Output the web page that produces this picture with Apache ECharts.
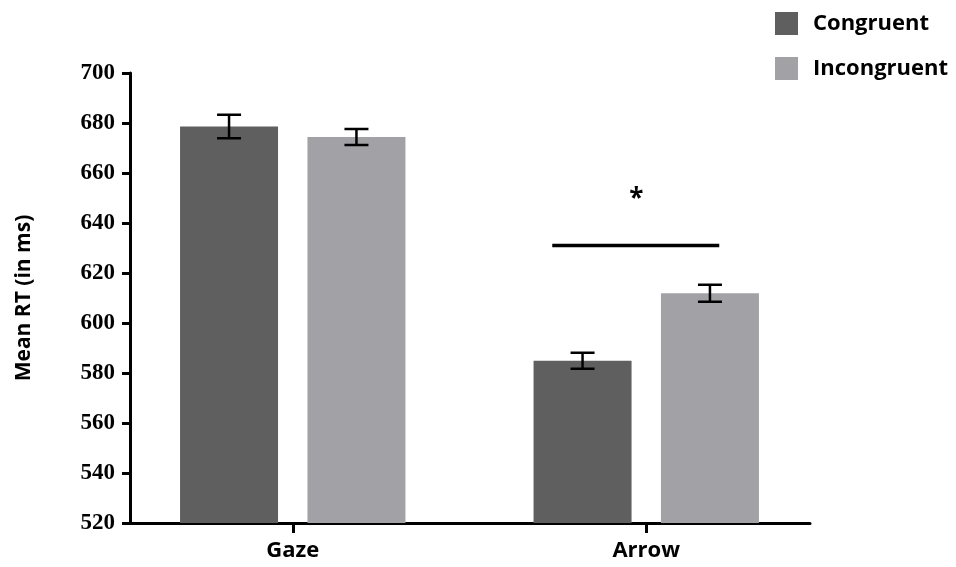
<!DOCTYPE html>
<html><head><meta charset="utf-8">
<script src="https://cdn.jsdelivr.net/npm/echarts@6/dist/echarts.min.js"></script>
<style>html,body{margin:0;padding:0;background:#fff}#c{width:956px;height:567px}</style>
</head><body><div id="c"></div>
<script>
// ---- data ----
const categories = ['Gaze', 'Arrow'];
const seriesNames = ['Congruent', 'Incongruent'];
const congruentMeans = [678.6, 584.9];
const congruentErrors = [4.7, 3.2];
const incongruentMeans = [674.4, 611.9];
const incongruentErrors = [3.2, 3.4];
const yMin = 520, yMax = 700, yInterval = 20;
const yAxisTitle = 'Mean RT (in ms)';
const sigCategory = 1;      // Arrow
const sigLineValue = 631;
const sigAsteriskValue = 650;
const sigLabel = '*';

// ---- style ----
const colors = ['#5f5f5f', '#a2a1a6'];
const barWidth = 98;
const barGapRatio = 0.30;
const barOffset = (barWidth + barWidth * barGapRatio) / 2;
const sansFont = 'Open Sans';
const serifFont = 'Liberation Serif';

function errorSeries(means, errs, offset) {
  return {
    type: 'custom', xAxisIndex: 1, yAxisIndex: 1, z: 5,
    data: means.map((m, i) => [i, m, errs[i]]),
    renderItem: function (params, api) {
      const ci = api.value(0), m = api.value(1), e = api.value(2);
      const top = api.coord([ci, m + e]);
      const bot = api.coord([ci, m - e]);
      const x = top[0] + offset;
      const cap = 12;
      const st = { stroke: '#000', lineWidth: 2.5 };
      return { type: 'group', children: [
        { type: 'line', shape: { x1: x, y1: top[1], x2: x, y2: bot[1] }, style: st },
        { type: 'line', shape: { x1: x - cap, y1: top[1], x2: x + cap, y2: top[1] }, style: st },
        { type: 'line', shape: { x1: x - cap, y1: bot[1], x2: x + cap, y2: bot[1] }, style: st }
      ]};
    }
  };
}

const chart = echarts.init(document.getElementById('c'), null, { renderer: 'canvas' });
chart.setOption({
  animation: false,
  backgroundColor: '#ffffff',
  legend: {
    left: 775, top: 12, orient: 'vertical', padding: 0,
    itemWidth: 23, itemHeight: 23, itemGap: 22,
    icon: 'rect',
    data: seriesNames,
    textStyle: { fontFamily: sansFont, fontWeight: 'bold', fontSize: 22, color: '#000', padding: [0, 0, 0, 10] }
  },
  grid: [
    { left: 130, width: 680, top: 73, height: 450 },
    { left: 116, width: 707, top: 73, height: 450 }
  ],
  xAxis: [
    { type: 'value', gridIndex: 0, min: 0, max: 1,
      axisLine: { show: true, lineStyle: { color: '#000', width: 3 } },
      axisTick: { show: false }, axisLabel: { show: false }, splitLine: { show: false } },
    { type: 'category', gridIndex: 1, data: categories,
      axisLine: { show: false },
      axisTick: { show: true, alignWithLabel: true, length: 10, lineStyle: { color: '#000', width: 3 } },
      axisLabel: { margin: 17, color: '#000', fontFamily: sansFont, fontWeight: 'bold', fontSize: 22 },
      splitLine: { show: false } }
  ],
  yAxis: [
    { type: 'value', gridIndex: 0, min: yMin, max: yMax, interval: yInterval,
      name: yAxisTitle, nameLocation: 'middle', nameGap: 95,
      nameTextStyle: { color: '#000', fontFamily: sansFont, fontWeight: 'bold', fontSize: 21 },
      axisLine: { show: true, lineStyle: { color: '#000', width: 3 } },
      axisTick: { show: true, length: 8, lineStyle: { color: '#000', width: 3 } },
      axisLabel: { margin: 15, color: '#000', fontFamily: serifFont, fontWeight: 'bold', fontSize: 23 },
      splitLine: { show: false } },
    { type: 'value', gridIndex: 1, min: yMin, max: yMax, interval: yInterval, show: false, splitLine: { show: false } }
  ],
  series: [
    { name: seriesNames[0], type: 'bar', xAxisIndex: 1, yAxisIndex: 1, data: congruentMeans,
      barWidth: barWidth, barGap: (barGapRatio * 100) + '%', itemStyle: { color: colors[0] } },
    { name: seriesNames[1], type: 'bar', xAxisIndex: 1, yAxisIndex: 1, data: incongruentMeans,
      barWidth: barWidth, barGap: (barGapRatio * 100) + '%', itemStyle: { color: colors[1] } },
    errorSeries(congruentMeans, congruentErrors, -barOffset),
    errorSeries(incongruentMeans, incongruentErrors, barOffset),
    { type: 'custom', xAxisIndex: 1, yAxisIndex: 1, z: 6,
      data: [[sigCategory, sigLineValue, sigAsteriskValue]],
      renderItem: function (params, api) {
        const p = api.coord([api.value(0), api.value(1)]);
        const a = api.coord([api.value(0), api.value(2)]);
        return { type: 'group', children: [
          { type: 'line', shape: { x1: p[0] - 94, y1: p[1], x2: p[0] + 73, y2: p[1] },
            style: { stroke: '#000', lineWidth: 3.5 } },
          { type: 'text', x: a[0] - 10, y: a[1] + 2,
            style: { text: sigLabel, fill: '#000', font: 'bold 26px "Open Sans"', align: 'center', verticalAlign: 'middle' } }
        ]};
      }
    }
  ]
});
</script></body></html>
